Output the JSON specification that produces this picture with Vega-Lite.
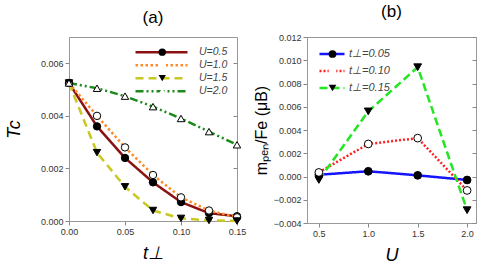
{
  "$schema": "https://vega.github.io/schema/vega-lite/v6.json",
  "background": "white",
  "padding": {"left": 4, "top": 2, "right": 8, "bottom": 4},
  "config": {
    "font": "Liberation Sans",
    "view": {"stroke": "#999", "strokeWidth": 1},
    "axis": {
      "grid": false,
      "offset": 0,
      "labelFlush": false,
      "labelFont": "Liberation Sans",
      "labelFontSize": 9,
      "labelColor": "#333",
      "tickColor": "#888",
      "domainColor": "#999",
      "tickSize": 4,
      "titleFont": "Liberation Sans",
      "titleFontWeight": "normal",
      "titleColor": "#000"
    },
    "legend": {"labelFont": "Liberation Sans", "labelFontStyle": "italic", "labelColor": "#444", "labelFontSize": 10.5, "padding": 0},
    "title": {"font": "Liberation Sans", "fontSize": 17, "fontWeight": "normal", "color": "#000"}
  },
  "resolve": {"scale": {"color": "independent", "strokeDash": "independent", "shape": "independent", "fill": "independent"}, "legend": {"color": "independent", "strokeDash": "independent", "shape": "independent", "fill": "independent"}},
  "datasets": {
    "a": [
      {"t": 0.0, "Tc": 0.00525, "U": "U=0.5", "Umark": "U=0.5"},
      {"t": 0.025, "Tc": 0.0036, "U": "U=0.5", "Umark": "U=0.5"},
      {"t": 0.05, "Tc": 0.0024, "U": "U=0.5", "Umark": "U=0.5"},
      {"t": 0.075, "Tc": 0.00147, "U": "U=0.5", "Umark": "U=0.5"},
      {"t": 0.1, "Tc": 0.00072, "U": "U=0.5", "Umark": "U=0.5"},
      {"t": 0.125, "Tc": 0.0003, "U": "U=0.5", "Umark": "U=0.5"},
      {"t": 0.15, "Tc": 0.00018, "U": "U=0.5", "Umark": "U=0.5"},
      {"t": 0.0, "Tc": 0.00525, "U": "U=1.0", "Umark": "U=1.0"},
      {"t": 0.025, "Tc": 0.004, "U": "U=1.0", "Umark": "U=1.0"},
      {"t": 0.05, "Tc": 0.0028, "U": "U=1.0", "Umark": "U=1.0"},
      {"t": 0.075, "Tc": 0.00175, "U": "U=1.0", "Umark": "U=1.0"},
      {"t": 0.1, "Tc": 0.0009, "U": "U=1.0", "Umark": "U=1.0"},
      {"t": 0.125, "Tc": 0.0004, "U": "U=1.0", "Umark": "U=1.0"},
      {"t": 0.15, "Tc": 0.00014, "U": "U=1.0", "Umark": "U=1.0"},
      {"t": 0.0, "Tc": 0.00525, "U": "U=1.5", "Umark": "U=1.5"},
      {"t": 0.025, "Tc": 0.0026, "U": "U=1.5", "Umark": "U=1.5"},
      {"t": 0.05, "Tc": 0.0013, "U": "U=1.5", "Umark": "U=1.5"},
      {"t": 0.075, "Tc": 0.0004, "U": "U=1.5", "Umark": "U=1.5"},
      {"t": 0.1, "Tc": 0.0001, "U": "U=1.5", "Umark": "U=1.5"},
      {"t": 0.125, "Tc": 0.00002, "U": "U=1.5", "Umark": "U=1.5"},
      {"t": 0.15, "Tc": 0.0, "U": "U=1.5", "Umark": "U=1.5"},
      {"t": 0.0, "Tc": 0.00525, "U": "U=2.0", "Umark": "U=2.0"},
      {"t": 0.025, "Tc": 0.00505, "U": "U=2.0", "Umark": "U=2.0"},
      {"t": 0.05, "Tc": 0.00475, "U": "U=2.0", "Umark": "U=2.0"},
      {"t": 0.075, "Tc": 0.00435, "U": "U=2.0", "Umark": "U=2.0"},
      {"t": 0.1, "Tc": 0.0039, "U": "U=2.0", "Umark": "U=2.0"},
      {"t": 0.125, "Tc": 0.0034, "U": "U=2.0", "Umark": "U=2.0"},
      {"t": 0.15, "Tc": 0.0029, "U": "U=2.0", "Umark": "U=2.0"}
    ],
    "b": [
      {"U": 0.5, "m": 0.00015, "t": "t⊥=0.05", "tmark": "t⊥=0.05"},
      {"U": 1.0, "m": 0.00045, "t": "t⊥=0.05", "tmark": "t⊥=0.05"},
      {"U": 1.5, "m": 0.0001, "t": "t⊥=0.05", "tmark": "t⊥=0.05"},
      {"U": 2.0, "m": -0.0003, "t": "t⊥=0.05", "tmark": "t⊥=0.05"},
      {"U": 0.5, "m": 0.00035, "t": "t⊥=0.10", "tmark": "t⊥=0.10"},
      {"U": 1.0, "m": 0.0028, "t": "t⊥=0.10", "tmark": "t⊥=0.10"},
      {"U": 1.5, "m": 0.0033, "t": "t⊥=0.10", "tmark": "t⊥=0.10"},
      {"U": 2.0, "m": -0.0012, "t": "t⊥=0.10", "tmark": "t⊥=0.10"},
      {"U": 0.5, "m": -0.0003, "t": "t⊥=0.15", "tmark": "t⊥=0.15"},
      {"U": 1.0, "m": 0.0056, "t": "t⊥=0.15", "tmark": "t⊥=0.15"},
      {"U": 1.5, "m": 0.0094, "t": "t⊥=0.15", "tmark": "t⊥=0.15"},
      {"U": 2.0, "m": -0.0029, "t": "t⊥=0.15", "tmark": "t⊥=0.15"}
    ]
  },
  "spacing": 5,
  "hconcat": [
    {
      "title": {"text": "(a)", "offset": 10},
      "width": 168,
      "height": 184,
      "data": {"name": "a"},
      "resolve": {"axis": {"y": "independent"}},
      "encoding": {
        "x": {"field": "t", "type": "quantitative", "scale": {"domain": [0, 0.15], "nice": false},
          "axis": {"title": "t⊥", "titleFontSize": 18, "titleFontStyle": "italic", "values": [0, 0.05, 0.1, 0.15], "format": ".2f", "titlePadding": 8}}
      },
      "layer": [
        {
          "mark": {"type": "line", "strokeWidth": 2.5},
          "encoding": {
            "y": {"field": "Tc", "type": "quantitative", "scale": {"domain": [0, 0.007], "nice": false},
              "axis": {"title": "Tc", "titleFontSize": 18, "titleFontStyle": "italic", "values": [0, 0.002, 0.004, 0.006], "format": ".3f", "titlePadding": 17}},
            "color": {"field": "U", "type": "nominal", "scale": {"range": ["#8B1212", "#FF8C2A", "#C8C820", "#1A8A1A"]},
              "legend": {"title": null, "orient": "none", "legendX": 65, "legendY": 9, "symbolType": "stroke", "symbolSize": 2704, "symbolStrokeWidth": 2.5, "rowPadding": 0, "clipHeight": 12.3, "labelOffset": 10}},
            "strokeDash": {"field": "U", "type": "nominal", "scale": {"range": [[1, 0], [2.5, 2.5], [8, 5], [8, 3, 2, 3, 2, 3]]}}
          }
        },
        {
          "mark": {"type": "point", "filled": true, "stroke": "black", "strokeWidth": 1, "size": 55, "opacity": 1},
          "encoding": {
            "y": {"field": "Tc", "type": "quantitative",
              "axis": {"orient": "right", "title": null, "labels": false, "domain": false, "tickSize": -4, "values": [0, 0.002, 0.004, 0.006]}},
            "shape": {"field": "Umark", "type": "nominal", "scale": {"range": ["circle", "circle", "triangle-down", "triangle-up"]},
              "legend": {"title": null, "orient": "none", "legendX": 65, "legendY": 9, "symbolSize": 55, "symbolOffset": 23, "symbolStrokeColor": "black", "symbolStrokeWidth": 1, "labelExpr": "''", "rowPadding": 0, "clipHeight": 12.3}},
            "fill": {"field": "Umark", "type": "nominal", "scale": {"range": ["black", "white", "black", "white"]}}
          }
        }
      ]
    },
    {
      "title": {"text": "(b)", "offset": 12},
      "width": 169,
      "height": 186,
      "data": {"name": "b"},
      "resolve": {"axis": {"y": "independent"}},
      "encoding": {
        "x": {"field": "U", "type": "quantitative", "scale": {"domain": [0.38, 2.09], "nice": false},
          "axis": {"title": "U", "titleFontSize": 18, "titleFontStyle": "italic", "values": [0.5, 1.0, 1.5, 2.0], "format": ".1f", "titlePadding": 8}}
      },
      "layer": [
        {
          "mark": {"type": "line", "strokeWidth": 2.5},
          "encoding": {
            "y": {"field": "m", "type": "quantitative", "scale": {"domain": [-0.004, 0.012], "nice": false},
              "axis": {"title": "mₚₑₙ/Fe (μB)", "titleFontSize": 16, "values": [-0.004, -0.002, 0, 0.002, 0.004, 0.006, 0.008, 0.01, 0.012], "format": ".3f", "titlePadding": 4}},
            "color": {"field": "t", "type": "nominal", "scale": {"range": ["#1414FF", "#FF2020", "#22E622"]},
              "legend": {"title": null, "orient": "none", "legendX": 11, "legendY": 8.5, "symbolType": "stroke", "symbolSize": 625, "symbolStrokeWidth": 2.5, "rowPadding": 0, "clipHeight": 17, "labelOffset": 3, "labelFontSize": 11}},
            "strokeDash": {"field": "t", "type": "nominal", "scale": {"range": [[1, 0], [2, 2], [8, 4]]}}
          }
        },
        {
          "mark": {"type": "point", "filled": true, "stroke": "black", "strokeWidth": 1, "size": 60, "opacity": 1},
          "encoding": {
            "y": {"field": "m", "type": "quantitative",
              "axis": {"orient": "right", "title": null, "labels": false, "domain": false, "tickSize": -4, "values": [-0.004, -0.002, 0, 0.002, 0.004, 0.006, 0.008, 0.01, 0.012]}},
            "shape": {"field": "tmark", "type": "nominal", "scale": {"range": ["circle", "circle", "triangle-down"]},
              "legend": {"title": null, "orient": "none", "legendX": 11, "legendY": 8.5, "symbolSize": 60, "symbolOffset": 9, "symbolStrokeColor": "black", "symbolStrokeWidth": 1, "labelExpr": "''", "rowPadding": 0, "clipHeight": 17, "labelFontSize": 11}},
            "fill": {"field": "tmark", "type": "nominal", "scale": {"range": ["black", "white", "black"]}}
          }
        }
      ]
    }
  ]
}
